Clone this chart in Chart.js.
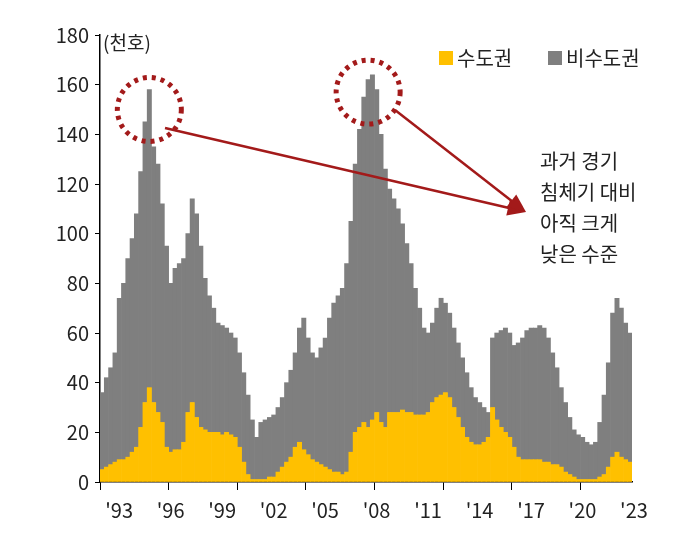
<!DOCTYPE html>
<html>
<head>
<meta charset="utf-8">
<script src="https://cdn.jsdelivr.net/npm/chart.js@4"></script>
<style>
  body { margin: 0; background: #fff; }
  #wrap { width: 682px; height: 552px; }
</style>
</head>
<body>
<div id="wrap"><canvas id="chart"></canvas></div>
<script>
// quarterly, 1993Q1 .. 2023Q4, unit: thousand units
const years = [];
for (let y = 1993; y <= 2023; y++) years.push(y);

const metro = [
    5, 6, 7, 8,   9, 9, 10, 12,   14, 22, 32, 38,   32, 28, 24, 14,
    12, 13, 13, 16,   28, 32, 26, 22,   21, 20, 20, 20,   19, 20, 19, 18,
    14, 8, 3, 1,   1, 1, 1, 2,   2, 4, 6, 8,   10, 14, 16, 13,
    11, 9, 8, 7,   6, 5, 4, 4,   3, 4, 12, 20,   22, 24, 22, 25,
    28, 24, 22, 28,   28, 28, 29, 28,   28, 27, 27, 27,   28, 32, 34, 35,
    36, 34, 30, 26,   22, 18, 16, 15,   15, 16, 18, 30,   25, 22, 20, 18,
    14, 10, 9, 9,   9, 9, 9, 8,   8, 7, 7, 6,   4, 3, 2, 1,
    1, 1, 1, 1,   2, 3, 6, 10,   12, 10, 9, 8
];
const nonMetro = [
    31, 36, 39, 44,   65, 71, 80, 86,   94, 103, 113, 120,   103, 100, 88, 81,
    68, 73, 75, 74,   72, 82, 82, 73,   61, 55, 50, 44,   44, 42, 41, 40,
    38, 36, 32, 24,   17, 23, 24, 24,   25, 26, 28, 32,   35, 38, 46, 53,
    47, 43, 42, 47,   52, 61, 68, 71,   75, 84, 93, 108,   120, 131, 140, 139,
    130, 116, 104, 90,   86, 82, 75, 68,   60, 51, 43, 35,   32, 32, 36, 39,
    36, 34, 32, 30,   28, 26, 22, 19,   17, 14, 10, 28,   35, 39, 42, 42,
    41, 46, 49, 52,   53, 53, 54, 54,   50, 45, 39, 32,   28, 23, 19, 18,
    17, 15, 14, 15,   22, 32, 42, 58,   62, 60, 55, 52
];

const labels = [];
years.forEach(function(y) {
    for (let q = 1; q <= 4; q++) labels.push(y + "Q" + q);
});

const noteLines = ["과거 경기", "침체기 대비", "아직 크게", "낮은 수준"];
const FONT = "'Noto Sans CJK KR', 'Noto Sans', sans-serif";
const RED = "#a31a1a";
const YELLOW = "#ffc000";
const GREY = "#7f7f7f";

function drawArrow(ctx, x1, y1, x2, y2) {
    let a = Math.atan2(y2 - y1, x2 - x1);
    ctx.beginPath();
    ctx.moveTo(x1, y1);
    ctx.lineTo(x2 - 14 * Math.cos(a), y2 - 14 * Math.sin(a));
    ctx.stroke();
    ctx.beginPath();
    ctx.moveTo(x2, y2);
    ctx.lineTo(x2 - 20 * Math.cos(a - 0.4), y2 - 20 * Math.sin(a - 0.4));
    ctx.lineTo(x2 - 20 * Math.cos(a + 0.4), y2 - 20 * Math.sin(a + 0.4));
    ctx.closePath();
    ctx.fill();
}

const notes = {
    id: 'notes',
    afterDraw: function(chart) {
        const ctx = chart.ctx;
        const xs = chart.scales.x, ys = chart.scales.y;
        ctx.save();
        ctx.textBaseline = "middle";
        // unit
        ctx.fillStyle = "#222";
        ctx.font = "19px " + FONT;
        ctx.fillText("(천호)", 103, 43);
        // legend
        ctx.fillStyle = YELLOW;
        ctx.fillRect(439, 51, 14, 14);
        ctx.fillStyle = GREY;
        ctx.fillRect(548, 51, 14, 14);
        ctx.fillStyle = "#222";
        ctx.font = "20px " + FONT;
        ctx.fillText("수도권", 457, 58);
        ctx.fillText("비수도권", 566, 58);
        // circles on the two peaks
        ctx.strokeStyle = RED;
        ctx.fillStyle = RED;
        ctx.lineWidth = 5;
        ctx.setLineDash([4, 5]);
        [[11, 150], [62, 157]].forEach(function(p) {
            ctx.beginPath();
            ctx.arc(xs.getPixelForValue(p[0]), ys.getPixelForValue(p[1]), 32, 0, Math.PI * 2);
            ctx.stroke();
        });
        ctx.setLineDash([]);
        ctx.lineWidth = 2.5;
        drawArrow(ctx, 165, 128, 526, 212);
        drawArrow(ctx, 395, 110, 526, 212);
        // note text
        ctx.fillStyle = "#222";
        ctx.font = "20px " + FONT;
        noteLines.forEach(function(t, i) {
            ctx.fillText(t, 540, 161 + i * 31);
        });
        ctx.restore();
    }
};

const ctx = document.getElementById('chart').getContext('2d');
const myChart = new Chart(ctx, {
    type: 'bar',
    data: {
        labels: labels,
        datasets: [
            {label: "수도권", data: metro, backgroundColor: YELLOW, barPercentage: 1, categoryPercentage: 1},
            {label: "비수도권", data: nonMetro, backgroundColor: GREY, barPercentage: 1, categoryPercentage: 1}
        ]
    },
    plugins: [notes],
    options: {
        responsive: true,
        maintainAspectRatio: false,
        animation: false,
        layout: {padding: {left: 0, right: 50, top: 35, bottom: 0}},
        plugins: {
            tooltip: {enabled: false},
            legend: {display: false}
        },
        scales: {
            x: {
                stacked: true,
                afterFit: function(s) { s.height = 70; },
                border: {color: "#000", width: 1.5},
                grid: {
                    drawOnChartArea: false,
                    tickLength: 8,
                    color: function(c) { return c.index % 16 === 0 ? "#000" : "rgba(0,0,0,0)"; }
                },
                ticks: {
                    autoSkip: false,
                    maxRotation: 0,
                    labelOffset: 17,
                    padding: 8,
                    color: "#222",
                    font: {family: FONT, size: 20},
                    callback: function(v, i) {
                        return i % 12 === 0 ? "'" + String(years[i / 4]).slice(2) : "";
                    }
                }
            },
            y: {
                stacked: true,
                min: 0,
                max: 180,
                afterFit: function(s) { s.width = 100; },
                border: {color: "#000", width: 1.5},
                grid: {drawOnChartArea: false, tickLength: 5, color: "#000"},
                ticks: {stepSize: 20, padding: 6, color: "#222", font: {family: FONT, size: 20}}
            }
        }
    }
});
</script>
</body>
</html>
